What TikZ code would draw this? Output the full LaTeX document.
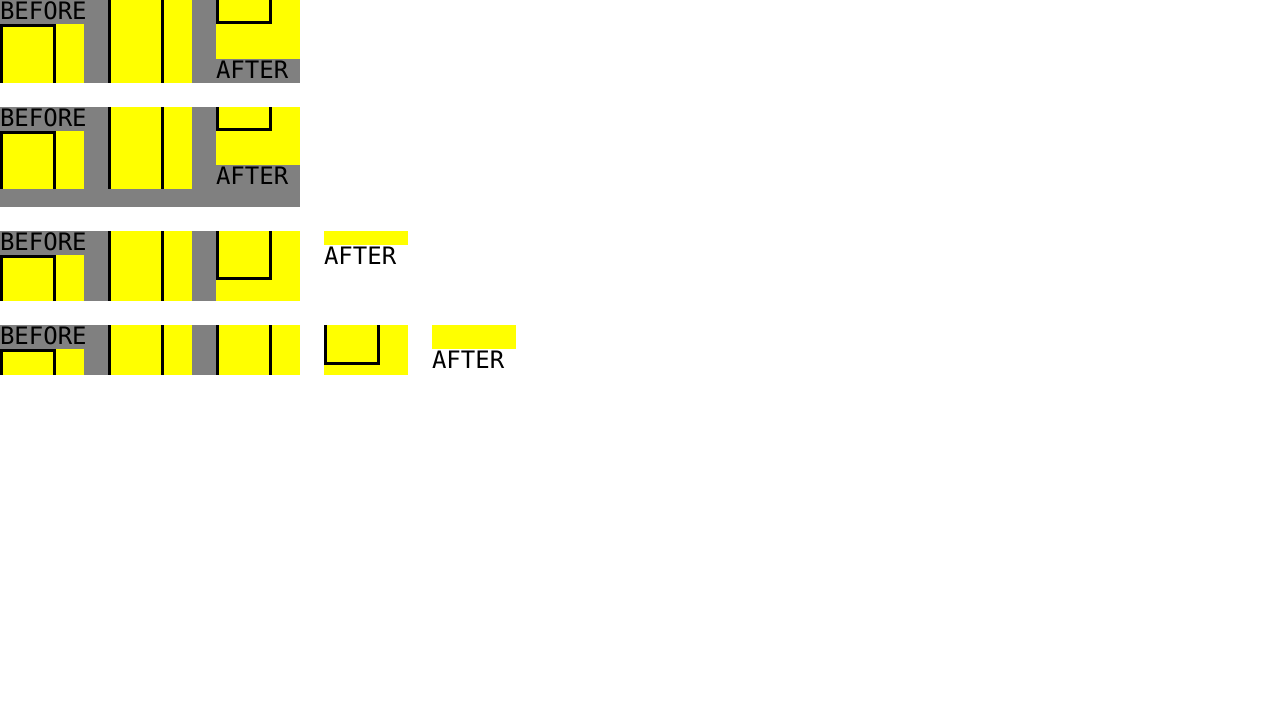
\documentclass[tikz,border=0pt]{standalone}
\usepackage{fontspec}
\newfontfamily\labfont{DejaVu Sans Mono}
\definecolor{boxgray}{HTML}{808080}
\definecolor{boxyellow}{HTML}{FFFF00}
\begin{document}
\begin{tikzpicture}[x=1pt,y=-1pt,
  grayarea/.style={fill=boxgray},
  yelarea/.style={fill=boxyellow},
  edgeline/.style={fill=black},
  lab/.style={anchor=base west,inner sep=0pt,outer sep=0pt,font=\labfont\fontsize{24}{24}\selectfont,text=black}]
\useasboundingbox[fill=white] (0,0) rectangle (1280,720);

% ---------- Row 1 ----------
\fill[grayarea] (0,0) rectangle (300,83);
\fill[yelarea] (0,24) rectangle (84,83);
\fill[edgeline] (0,24) rectangle (56,27);
\fill[edgeline] (0,24) rectangle (3,83);
\fill[edgeline] (53,24) rectangle (56,83);
\fill[yelarea] (108,0) rectangle (192,83);
\fill[edgeline] (108,0) rectangle (111,83);
\fill[edgeline] (161,0) rectangle (164,83);
\fill[yelarea] (216,0) rectangle (300,59);
\fill[edgeline] (216,0) rectangle (219,24);
\fill[edgeline] (269,0) rectangle (272,24);
\fill[edgeline] (216,21) rectangle (272,24);
\node[lab] (b1) at (0,19.5) {BEFORE};
\node[lab] (a1) at (216,78.5) {AFTER};

% ---------- Row 2 ----------
\fill[grayarea] (0,107) rectangle (300,207);
\fill[yelarea] (0,131) rectangle (84,189);
\fill[edgeline] (0,131) rectangle (56,134);
\fill[edgeline] (0,131) rectangle (3,189);
\fill[edgeline] (53,131) rectangle (56,189);
\fill[yelarea] (108,107) rectangle (192,189);
\fill[edgeline] (108,107) rectangle (111,189);
\fill[edgeline] (161,107) rectangle (164,189);
\fill[yelarea] (216,107) rectangle (300,165);
\fill[edgeline] (216,107) rectangle (219,131);
\fill[edgeline] (269,107) rectangle (272,131);
\fill[edgeline] (216,128) rectangle (272,131);
\node[lab] (b2) at (0,126.5) {BEFORE};
\node[lab] (a2) at (216,184.5) {AFTER};

% ---------- Row 3 ----------
\fill[grayarea] (0,231) rectangle (216,301);
\fill[yelarea] (0,255) rectangle (84,301);
\fill[edgeline] (0,255) rectangle (56,258);
\fill[edgeline] (0,255) rectangle (3,301);
\fill[edgeline] (53,255) rectangle (56,301);
\fill[yelarea] (108,231) rectangle (192,301);
\fill[edgeline] (108,231) rectangle (111,301);
\fill[edgeline] (161,231) rectangle (164,301);
\fill[yelarea] (216,231) rectangle (300,301);
\fill[edgeline] (216,231) rectangle (219,280);
\fill[edgeline] (269,231) rectangle (272,280);
\fill[edgeline] (216,277) rectangle (272,280);
\fill[yelarea] (324,231) rectangle (408,245);
\node[lab] (b3) at (0,250.5) {BEFORE};
\node[lab] (a3) at (324,264.5) {AFTER};

% ---------- Row 4 ----------
\fill[grayarea] (0,325) rectangle (216,375);
\fill[yelarea] (0,349) rectangle (84,375);
\fill[edgeline] (0,349) rectangle (56,352);
\fill[edgeline] (0,349) rectangle (3,375);
\fill[edgeline] (53,349) rectangle (56,375);
\fill[yelarea] (108,325) rectangle (192,375);
\fill[edgeline] (108,325) rectangle (111,375);
\fill[edgeline] (161,325) rectangle (164,375);
\fill[yelarea] (216,325) rectangle (300,375);
\fill[edgeline] (216,325) rectangle (219,375);
\fill[edgeline] (269,325) rectangle (272,375);
\fill[yelarea] (324,325) rectangle (408,375);
\fill[edgeline] (324,325) rectangle (327,365);
\fill[edgeline] (377,325) rectangle (380,365);
\fill[edgeline] (324,362) rectangle (380,365);
\fill[yelarea] (432,325) rectangle (516,349);
\node[lab] (b4) at (0,344.5) {BEFORE};
\node[lab] (a4) at (432,368.5) {AFTER};
\end{tikzpicture}
\end{document}
